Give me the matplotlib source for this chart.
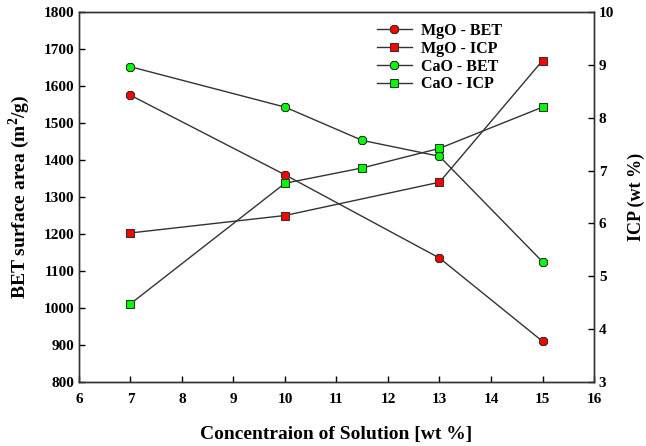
import matplotlib.pyplot as plt

# concentration of solution [wt %]
mgo_x = [7, 10, 13, 15]
cao_x = [7, 10, 11.5, 13, 15]

mgo_bet = [1575, 1360, 1135, 910]
cao_bet = [1652, 1543, 1453, 1410, 1125]

mgo_icp = [5.82, 6.15, 6.78, 9.08]
cao_icp = [4.48, 6.76, 7.05, 7.42, 8.20]

plt.rcParams["font.family"] = ["Liberation Serif", "DejaVu Serif"]
plt.rcParams["font.weight"] = "bold"
plt.rcParams["mathtext.fontset"] = "custom"
plt.rcParams["mathtext.bf"] = "Liberation Serif:bold"
plt.rcParams["mathtext.rm"] = "Liberation Serif:bold"

fig = plt.figure(figsize=(6.46, 4.46), dpi=100)
ax = fig.add_axes([79 / 646, 1 - 382 / 446, (594 - 79) / 646, (382 - 12) / 446])
ax2 = ax.twinx()

line_kw = dict(color="#333333", lw=1.0, markeredgecolor="#333333", markeredgewidth=0.8)

l1, = ax.plot(mgo_x, mgo_bet, marker="8", ms=6.2, markerfacecolor="#ff0000",
              label="MgO - BET", **line_kw)
l3, = ax.plot(cao_x, cao_bet, marker="8", ms=6.2, markerfacecolor="#00ff00",
              label="CaO - BET", **line_kw)
l2, = ax2.plot(mgo_x, mgo_icp, marker="s", ms=6.2, markerfacecolor="#ff0000",
               label="MgO - ICP", **line_kw)
l4, = ax2.plot(cao_x, cao_icp, marker="s", ms=6.2, markerfacecolor="#00ff00",
               label="CaO - ICP", **line_kw)

ax.set_xlim(6, 16)
ax.set_ylim(800, 1800)
ax2.set_ylim(3, 10)
ax.set_xticks(range(6, 17))
ax.set_yticks(range(800, 1801, 100))
ax2.set_yticks(range(3, 11))

for a in (ax, ax2):
    a.tick_params(direction="in", length=4, width=1, labelsize=11)
    for s in a.spines.values():
        s.set_linewidth(1.0)
        s.set_color("#333333")
ax.tick_params(axis="x", pad=8)

ax.set_xlabel("Concentraion of Solution [wt %]", fontsize=14, fontweight="bold", labelpad=14)
ax.set_ylabel("BET surface area (m$^{2}$/g)", fontsize=14, fontweight="bold", labelpad=8)
ax2.set_ylabel("ICP (wt %)", fontsize=13, fontweight="bold", labelpad=10)

ax.legend(handles=[l1, l2, l3, l4], loc="upper left", bbox_to_anchor=(0.55, 1.01),
          frameon=False, handlelength=2.2, labelspacing=0.12, handletextpad=0.6,
          prop={"weight": "bold", "size": 11.5})

fig.savefig("out.png", dpi=100)
